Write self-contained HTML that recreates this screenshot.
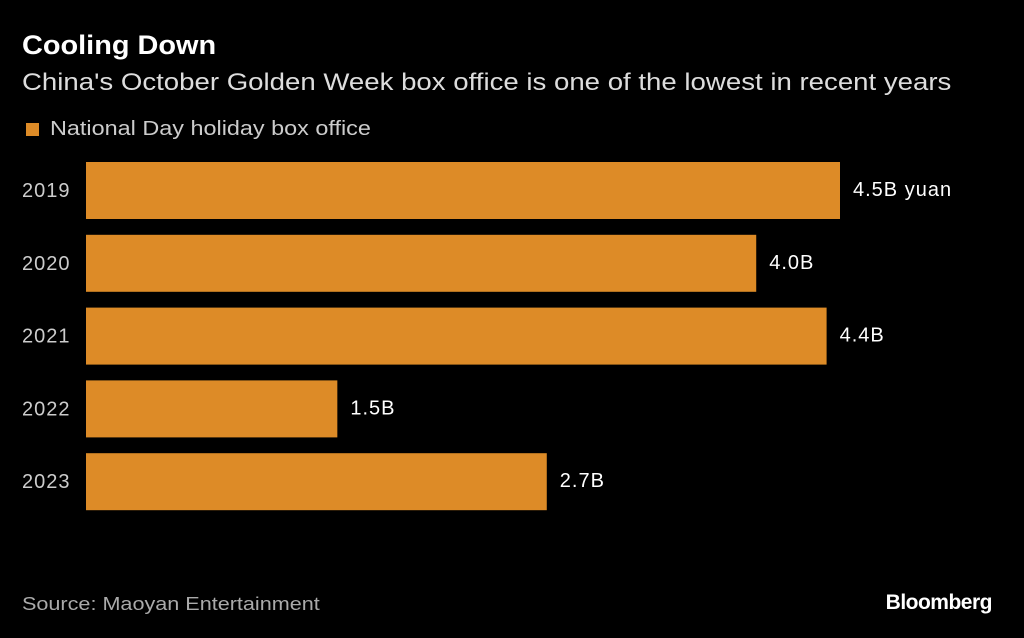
<!DOCTYPE html>
<html><head><meta charset="utf-8"><style>
body{margin:0;background:#000;width:1024px;height:638px;overflow:hidden;font-family:"Liberation Sans",sans-serif;color:#fff;position:relative}
.t{position:absolute;white-space:nowrap;transform-origin:left center}
</style></head><body>
<div class="t" style="left:22px;top:30px;font-size:27px;font-weight:bold;transform:scaleX(1.07)">Cooling Down</div>
<div class="t" style="left:22px;top:69px;font-size:24px;color:#ddd;transform:scaleX(1.15)">China's October Golden Week box office is one of the lowest in recent years</div>
<div class="t" style="left:26px;top:118px;font-size:20px;color:#ccc"><span style="display:inline-block;width:13px;height:13px;background:#dd8b27;margin-right:11px;vertical-align:-1px"></span><span style="display:inline-block;transform:scaleX(1.17);transform-origin:left center">National Day holiday box office</span></div>
<svg id="c" width="1024" height="638" style="position:absolute;left:0;top:0"></svg>
<div class="t" style="left:22px;top:594px;font-size:18px;color:#aaa;transform:scaleX(1.2)">Source: Maoyan Entertainment</div>
<div class="t" style="right:32px;top:591px;font-size:21px;font-weight:bold;letter-spacing:-0.5px">Bloomberg</div>
<script>
const years=["2019","2020","2021","2022","2023"];
const values=[4.5,4.0,4.42,1.5,2.75];
const valueLabels=["4.5B yuan","4.0B","4.4B","1.5B","2.7B"];
const svg=document.getElementById('c');
const NS="http://www.w3.org/2000/svg";
const x0=86,scale=(840-86)/4.5;
function xs(v){return x0+v*scale;}
function ys(i){return 162+i*72.8;}
years.forEach((y,i)=>{
 const r=document.createElementNS(NS,'rect');
 r.setAttribute('x',x0);r.setAttribute('y',ys(i));
 r.setAttribute('width',xs(values[i])-x0);r.setAttribute('height',57);
 r.setAttribute('fill','#dd8b27');
 
 
 svg.appendChild(r);
 const t=document.createElementNS(NS,'text');
 t.setAttribute('x',22);t.setAttribute('y',ys(i)+35);
 t.setAttribute('fill','#ccc');t.setAttribute('font-size','20');
 t.setAttribute('letter-spacing','1');
 t.setAttribute('font-family','Liberation Sans, sans-serif');
 t.textContent=y;
 
 
 svg.appendChild(t);
 const v=document.createElementNS(NS,'text');
 v.setAttribute('x',xs(values[i])+13);v.setAttribute('y',ys(i)+34);
 v.setAttribute('fill','#fff');v.setAttribute('font-size','20');
 v.setAttribute('letter-spacing','1');
 v.setAttribute('font-family','Liberation Sans, sans-serif');
 v.textContent=valueLabels[i];
 
 
 svg.appendChild(v);
});
</script>
</body></html>
